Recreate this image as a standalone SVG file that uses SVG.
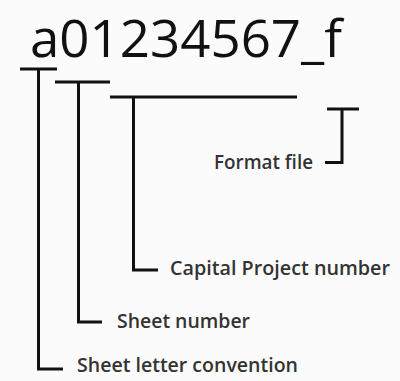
<svg xmlns="http://www.w3.org/2000/svg" width="400" height="381" viewBox="0 0 400 381">
  <style>
    .title { font-family: "Open Sans", "Noto Sans", "Liberation Sans", sans-serif; font-size: 51px; fill: #111; }
    .label { font-family: "Open Sans", "Noto Sans", "Liberation Sans", sans-serif; font-size: 19px; font-weight: 600; fill: #333; }
    .line { fill: none; stroke: #111; stroke-width: 3; stroke-linecap: butt; stroke-linejoin: miter; }
  </style>
  <rect width="400" height="381" fill="#fbfbfb"/>

  <g id="code">
    <text class="title" x="30" y="57" textLength="312" lengthAdjust="spacingAndGlyphs">a01234567_f</text>
  </g>

  <g id="connectors">
    <!-- sheet letter -->
    <path class="line" d="M20 69 H57 M38.5 69 V369 H63"/>
    <!-- sheet number -->
    <path class="line" d="M55 82 H110 M78.5 82 V322 H102"/>
    <!-- capital project number -->
    <path class="line" d="M110 97 H297 M133.5 97 V270 H158"/>
    <!-- format file -->
    <path class="line" d="M327 109 H359 M342 109 V162.5 H325"/>
  </g>

  <g id="format-file">
    <text class="label" x="214" y="169" textLength="99" lengthAdjust="spacingAndGlyphs">Format file</text>
  </g>
  <g id="capital-project-number">
    <text class="label" x="170" y="275" textLength="220" lengthAdjust="spacingAndGlyphs">Capital Project number</text>
  </g>
  <g id="sheet-number">
    <text class="label" x="117" y="328" textLength="133" lengthAdjust="spacingAndGlyphs">Sheet number</text>
  </g>
  <g id="sheet-letter-convention">
    <text class="label" x="77" y="372" textLength="221" lengthAdjust="spacingAndGlyphs">Sheet letter convention</text>
  </g>
</svg>
